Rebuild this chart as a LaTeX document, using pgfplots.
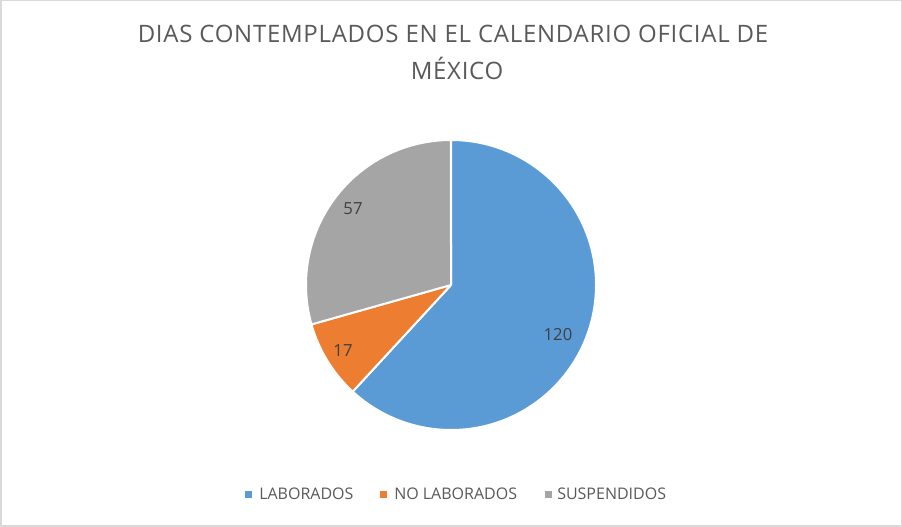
\documentclass[border=0pt]{standalone}
\usepackage{pgfplots}
\usepackage{pgfplotstable}
\pgfplotsset{compat=1.18}
\usepackage{fontspec}
\setmainfont{Open Sans}

\definecolor{cLab}{HTML}{5B9BD5}
\definecolor{cNoLab}{HTML}{ED7D31}
\definecolor{cSusp}{HTML}{A5A5A5}
\definecolor{txtdark}{HTML}{404040}
\definecolor{txtgray}{HTML}{595959}
\definecolor{frame}{HTML}{D9D9D9}

% dias por categoria
\pgfplotstableread{
name value
LABORADOS 120
NOLABORADOS 17
SUSPENDIDOS 57
}\piedata

% 1 unidad del eje = 1 px de la imagen (0.75pt)
\newcommand\cx{451}
\newcommand\cy{242}
\newcommand\slice[3]{%
  \fill[#3, draw=white, line width=1.5pt, line join=round]
    (axis cs:\cx,\cy) -- (axis cs:{\cx+145*cos(#1)},{\cy+145*sin(#1)})
    arc[start angle=#1, end angle=#2, radius=108.75pt] -- cycle;}
\newcommand\titlefont{\fontsize{18pt}{21pt}\selectfont\addfontfeatures{LetterSpace=3}}
\newcommand\legfont{\fontsize{12pt}{14pt}\selectfont}

\begin{document}
\begin{tikzpicture}
\pgfplotstablegetelem{0}{value}\of\piedata \edef\vA{\pgfplotsretval}
\pgfplotstablegetelem{1}{value}\of\piedata \edef\vB{\pgfplotsretval}
\pgfplotstablegetelem{2}{value}\of\piedata \edef\vC{\pgfplotsretval}
\pgfmathsetmacro\tot{\vA+\vB+\vC}
\pgfmathsetmacro\aA{90}
\pgfmathsetmacro\aB{\aA-360*(\vA/\tot)}
\pgfmathsetmacro\aC{\aB-360*(\vB/\tot)}
\pgfmathsetmacro\aD{\aC-360*(\vC/\tot)}
\begin{axis}[
    width=676.5pt, height=395.25pt,
    scale only axis,
    hide axis,
    xmin=0, xmax=902,
    ymin=0, ymax=527,
    clip=false,
]
\draw[frame, line width=1.125pt] (axis cs:0.75,0.75) rectangle (axis cs:901.25,526.25);

\slice{\aA}{\aB}{cLab}
\slice{\aB}{\aC}{cNoLab}
\slice{\aC}{\aD}{cSusp}

% etiquetas de datos
\node[txtdark, font=\fontsize{12.5pt}{14pt}\selectfont] at (axis cs:558,192) {\vA};
\node[txtdark, font=\fontsize{12.5pt}{14pt}\selectfont] at (axis cs:343,176) {\vB};
\node[txtdark, font=\fontsize{12.5pt}{14pt}\selectfont] at (axis cs:353,318) {\vC};

% titulo
\node[txtgray, anchor=base, font=\titlefont] at (axis cs:453,484)
  {DIAS CONTEMPLADOS EN EL CALENDARIO OFICIAL DE};
\node[txtgray, anchor=base, font=\titlefont] at (axis cs:457,447)
  {MÉXICO};

% leyenda
\fill[cLab] (axis cs:245,36) rectangle (axis cs:252,29);
\node[txtgray, anchor=base west, inner sep=0pt, font=\legfont] at (axis cs:259,27) {LABORADOS};
\fill[cNoLab] (axis cs:380,36) rectangle (axis cs:387,29);
\node[txtgray, anchor=base west, inner sep=0pt, font=\legfont] at (axis cs:394,27) {NO LABORADOS};
\fill[cSusp] (axis cs:545,36) rectangle (axis cs:552,29);
\node[txtgray, anchor=base west, inner sep=0pt, font=\legfont] at (axis cs:557,27) {SUSPENDIDOS};
\end{axis}
\end{tikzpicture}
\end{document}
